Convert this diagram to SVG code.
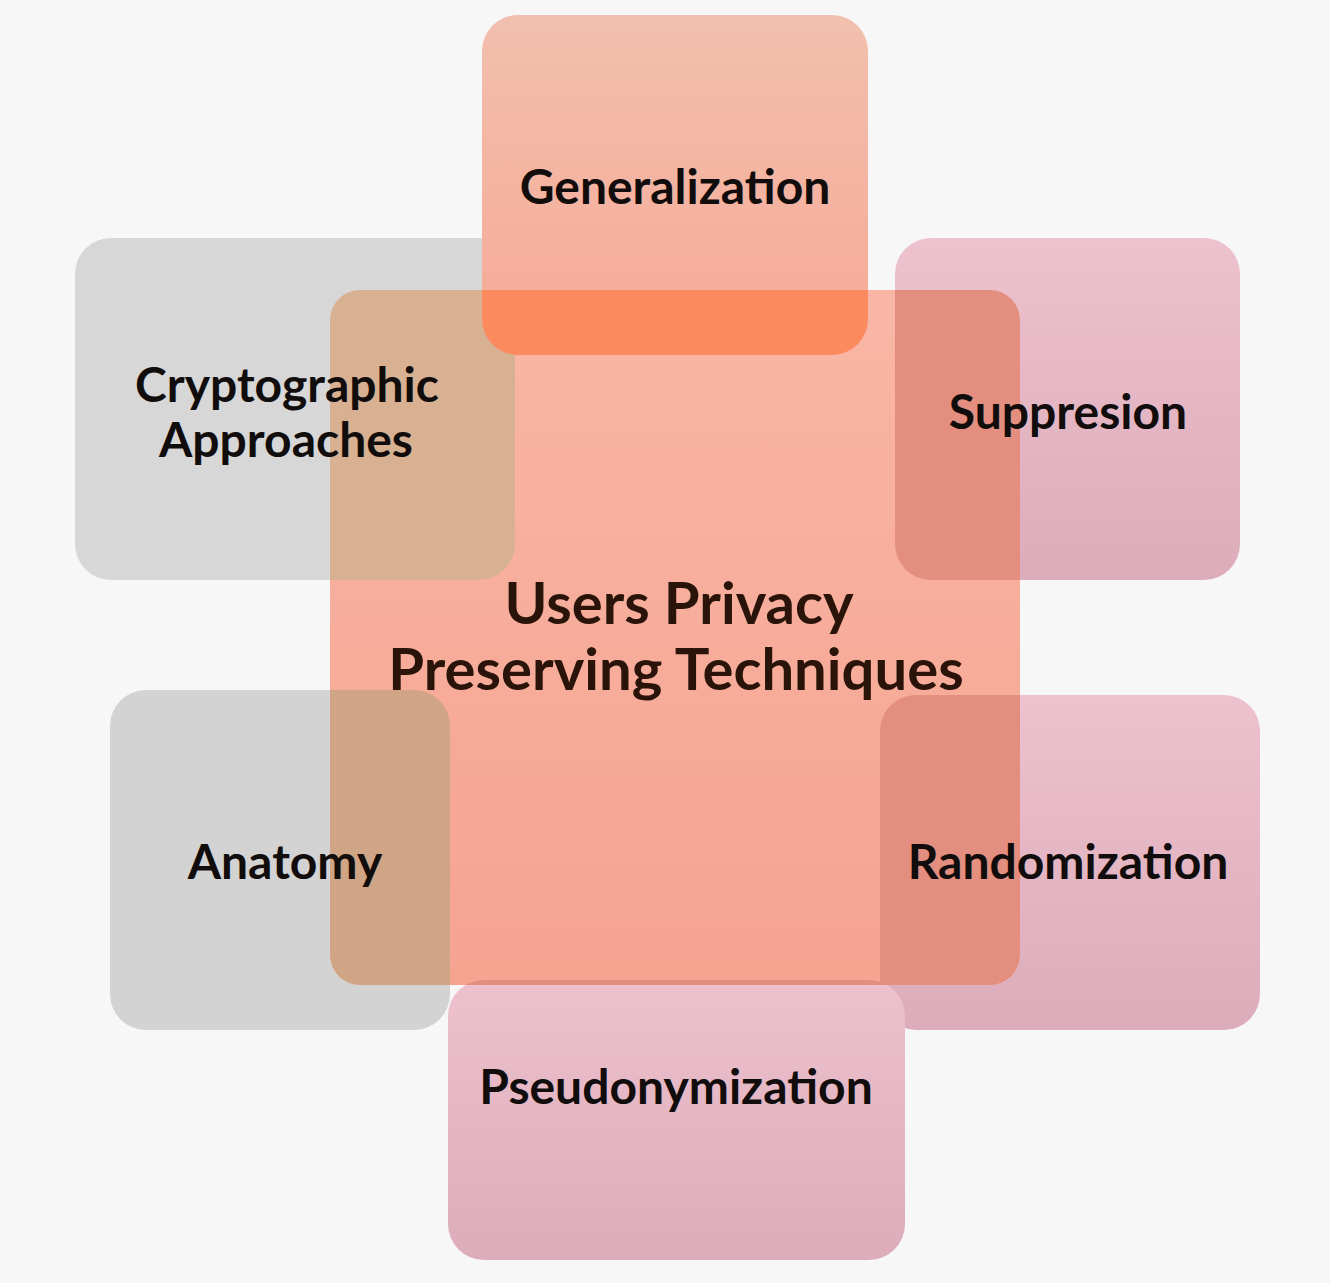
<svg xmlns="http://www.w3.org/2000/svg" width="1330" height="1283" viewBox="0 0 1330 1283">
<style>
.lbl{font-family:Lato,"Liberation Sans",sans-serif;font-weight:bold;font-size:48px;fill:#120d0d;text-anchor:middle}
.title{font-family:Lato,"Liberation Sans",sans-serif;font-weight:bold;font-size:58px;fill:#2a140a;text-anchor:middle}
.gray{fill:#d7d7d7}
</style>
<defs>
<clipPath id="inC"><rect x="330" y="290" width="690" height="695" rx="30"/></clipPath>
<mask id="outC" maskUnits="userSpaceOnUse" x="0" y="0" width="1330" height="1283">
<rect x="0" y="0" width="1330" height="1283" fill="#fff"/>
<rect x="330" y="290" width="690" height="695" rx="30" fill="#000"/>
</mask>
<linearGradient id="gC" x1="0" y1="0" x2="0" y2="1">
<stop offset="0" stop-color="#f9b6a6"/><stop offset="1" stop-color="#f6a390"/>
</linearGradient>
<linearGradient id="gG" x1="0" y1="0" x2="0" y2="1">
<stop offset="0" stop-color="#f2bfae"/><stop offset="1" stop-color="#f7a996"/>
</linearGradient>
<linearGradient id="gP" x1="0" y1="0" x2="0" y2="1">
<stop offset="0" stop-color="#edc1cd"/><stop offset="1" stop-color="#dcacba"/>
</linearGradient>
</defs>
<rect width="1330" height="1283" fill="#f7f7f7"/>

<g id="center">
<rect x="330" y="290" width="690" height="695" rx="30" fill="url(#gC)"/>
</g>

<g id="connectors"/>

<g id="cryptographic">
<rect x="75" y="238" width="440" height="342" rx="36" class="gray" mask="url(#outC)"/>
<rect x="75" y="238" width="440" height="342" rx="36" fill="#d8b092" clip-path="url(#inC)"/>
<text class="lbl" x="287" y="402">Cryptographic</text>
<text class="lbl" x="286" y="457">Approaches</text>
</g>

<g id="generalization">
<rect x="482" y="15" width="386" height="340" rx="36" fill="url(#gG)" mask="url(#outC)"/>
<rect x="482" y="15" width="386" height="340" rx="36" fill="#fb8a5e" clip-path="url(#inC)"/>
<text class="lbl" x="675" y="204">Generalization</text>
</g>

<g id="suppresion">
<rect x="895" y="238" width="345" height="342" rx="36" fill="url(#gP)" mask="url(#outC)"/>
<rect x="895" y="238" width="345" height="342" rx="36" fill="#e38e7e" clip-path="url(#inC)"/>
<text class="lbl" x="1068" y="429">Suppresion</text>
</g>

<g id="anatomy">
<rect x="110" y="690" width="340" height="340" rx="36" fill="#d3d3d3" mask="url(#outC)"/>
<rect x="110" y="690" width="340" height="340" rx="36" fill="#cfa585" clip-path="url(#inC)"/>
<text class="lbl" x="285" y="879">Anatomy</text>
</g>

<g id="randomization">
<rect x="880" y="695" width="380" height="335" rx="36" fill="url(#gP)" mask="url(#outC)"/>
<rect x="880" y="695" width="380" height="335" rx="36" fill="#e38e7e" clip-path="url(#inC)"/>
<text class="lbl" x="1068" y="879">Randomization</text>
</g>

<g id="pseudonymization">
<rect x="448" y="980" width="457" height="280" rx="36" fill="url(#gP)" mask="url(#outC)"/>
<rect x="448" y="980" width="457" height="280" rx="36" fill="#e38e7e" clip-path="url(#inC)"/>
<text class="lbl" x="676" y="1104">Pseudonymization</text>
</g>

<g id="center-label">
<text class="title" x="679" y="624">Users Privacy</text>
<text class="title" x="676" y="690">Preserving Techniques</text>
</g>
</svg>
